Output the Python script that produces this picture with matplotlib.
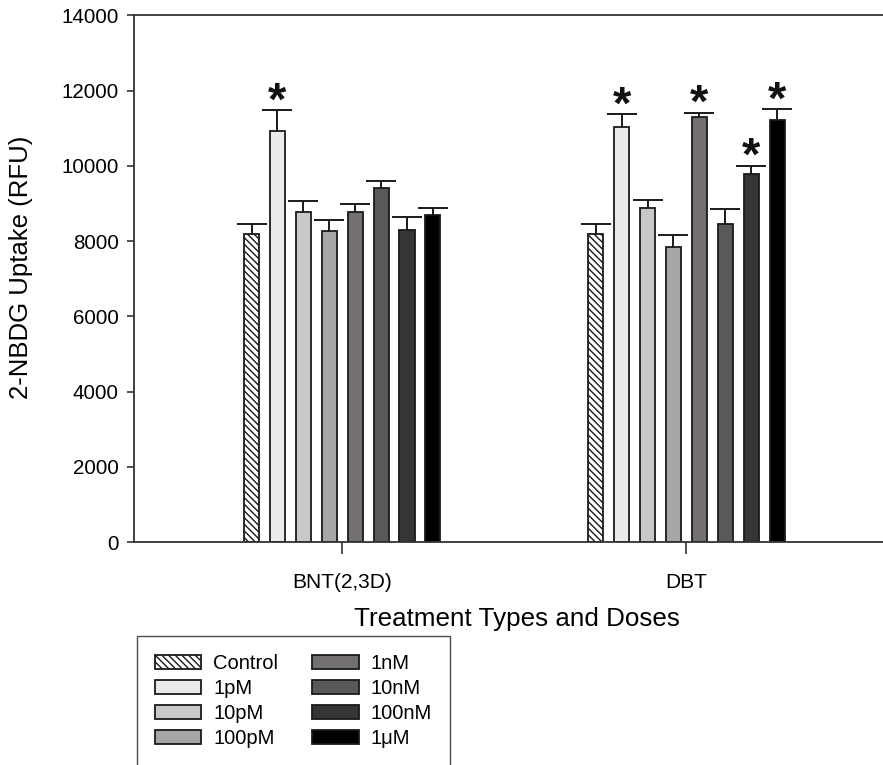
import matplotlib
matplotlib.use("Agg")
import matplotlib.pyplot as plt
import numpy as np

plt.rcParams['font.family'] = ['Liberation Sans', 'DejaVu Sans']
plt.rcParams['hatch.color'] = '#555555'
plt.rcParams['hatch.linewidth'] = 1.0

groups = ["BNT(2,3D)", "DBT"]
doses = ["Control", "1pM", "10pM", "100pM", "1nM", "10nM", "100nM", "1\u03bcM"]

# mean uptake per dose, one list per treatment group
bnt_mean = [8200, 10920, 8775, 8260, 8765, 9420, 8300, 8685]
bnt_err = [240, 550, 285, 290, 215, 180, 330, 200]
dbt_mean = [8200, 11040, 8880, 7845, 11290, 8440, 9790, 11205]
dbt_err = [245, 325, 215, 310, 105, 400, 200, 295]

# significance markers (True = asterisk)
bnt_sig = [False, True, False, False, False, False, False, False]
dbt_sig = [False, True, False, False, True, False, True, True]

colors = ['white', '#ebebeb', '#c8c8c8', '#a6a6a6', '#747070', '#595959', '#363636', '#000000']

fig = plt.figure(figsize=(8.83, 7.65), dpi=100)
ax = fig.add_axes([134 / 883, 223 / 765, 0.868, 0.6885])

means = np.array([bnt_mean, dbt_mean])
errs = np.array([bnt_err, dbt_err])
sigs = np.array([bnt_sig, dbt_sig])

gx = np.arange(len(groups))
pitch = 0.0753
width = 0.044
for i, d in enumerate(doses):
    xs = gx + (i - 3.5) * pitch
    ax.bar(xs, means[:, i], width, color=colors[i], edgecolor='#1a1a1a', linewidth=1.3,
           hatch='\\\\\\\\\\' if i == 0 else None, label=d, zorder=2)
    eb = ax.errorbar(xs, means[:, i], yerr=[np.zeros(2), errs[:, i]], fmt='none',
                     ecolor='#1a1a1a', elinewidth=1.4, capsize=11, capthick=1.4, zorder=3)
    eb[1][0].set_visible(False)  # only the upper cap
    for g in range(len(groups)):
        if sigs[g, i]:
            ax.annotate('*', xy=(xs[g], means[g, i] + errs[g, i]), xytext=(0, -10),
                        textcoords='offset points', ha='center', va='bottom',
                        fontsize=34, fontweight='bold', color='#111111')

ax.set_xlim(-0.605, 1.622)
ax.set_ylim(0, 14000)
ax.set_yticks(np.arange(0, 14001, 2000))
ax.set_xticks(gx)
ax.set_xticklabels(groups)
ax.tick_params(axis='y', direction='out', length=5, width=1.2, labelsize=14.8, pad=6, color='#333333')
ax.tick_params(axis='x', direction='out', length=8.5, width=1.2, labelsize=15, pad=13.5, color='#333333')
for s in ['left', 'bottom', 'top']:
    ax.spines[s].set_color('#333333')
    ax.spines[s].set_linewidth(1.3)
ax.spines['right'].set_visible(False)

ax.set_ylabel("2-NBDG Uptake (RFU)", fontsize=18.5)
ax.yaxis.set_label_coords(-0.132, 0.522)
ax.set_xlabel("Treatment Types and Doses", fontsize=18.7, labelpad=11)

leg = fig.legend(loc='upper left', bbox_to_anchor=(137 / 883, 1 - 636 / 765), ncol=2,
                 fontsize=14.5, frameon=True, fancybox=False, edgecolor='#222222',
                 handlelength=2.3, handleheight=0.72, columnspacing=1.7, labelspacing=0.3,
                 borderpad=0.9, borderaxespad=0, handletextpad=0.58)
leg.get_frame().set_linewidth(1.0)

fig.savefig("out.png", dpi=100)
